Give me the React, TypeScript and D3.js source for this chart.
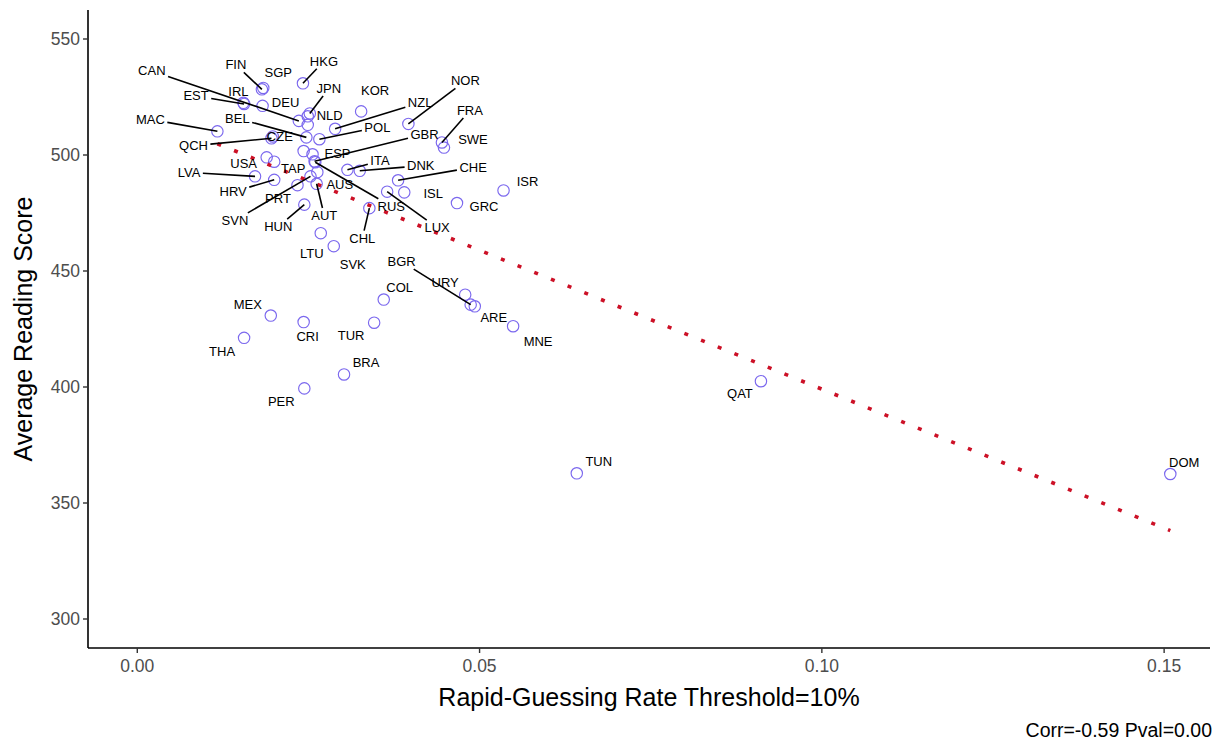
import React, { useMemo } from "react";
import * as d3 from "d3";

// ---------- DATA ----------
const countries = [
  "FIN","SGP","HKG","EST","IRL","DEU","JPN","NLD","CAN","",
  "NZL","POL","BEL","QCH","CZE","MAC","KOR","NOR","FRA","SWE",
  "","ESP","GBR","RUS","USA","TAP","LVA","HRV","PRT","SVN",
  "AUS","AUT","HUN","ITA","DNK","CHE","LUX","ISL","GRC","ISR",
  "CHL","LTU","SVK","MEX","CRI","THA","TUR","COL","BRA","PER",
  "URY","BGR","ARE","MNE","QAT","TUN","DOM",
];
const rapidGuessRate = [
  0.0182,0.0184,0.0242,0.0156,0.0155,0.0183,0.0252,0.0249,0.0236,0.0249,
  0.0289,0.0266,0.0247,0.0196,0.0198,0.0117,0.0327,0.0396,0.0445,0.0448,
  0.0243,0.0256,0.0259,0.0260,0.0189,0.0200,0.0172,0.0200,0.0234,0.0253,
  0.0263,0.0262,0.0244,0.0307,0.0325,0.0381,0.0365,0.0390,0.0467,0.0535,
  0.0339,0.0268,0.0287,0.0195,0.0243,0.0156,0.0346,0.0360,0.0302,0.0244,
  0.0479,0.0487,0.0493,0.0549,0.0911,0.0642,0.1509,
];
const readingScore = [
  528.3,528.9,530.9,522.0,522.5,521.2,517.9,516.7,514.7,513.0,
  511.3,506.8,507.6,507.2,508.0,510.2,518.8,513.4,505.4,503.2,
  501.7,500.3,497.3,496.9,499.0,497.1,490.8,489.3,487.0,490.8,
  492.6,487.6,478.6,493.6,493.2,489.1,484.2,483.9,479.3,484.7,
  477.1,466.3,460.7,430.8,428.0,421.2,427.7,437.7,405.4,399.4,
  439.8,435.5,434.8,426.2,402.5,362.8,362.5,
];
const xTicks = [0, 0.05, 0.1, 0.15];
const yTicks = [300, 350, 400, 450, 500, 550];
const xTitle = "Rapid-Guessing Rate Threshold=10%";
const yTitle = "Average Reading Score";
const caption = "Corr=-0.59 Pval=0.00";

// ---------- LAYOUT (repelled label placement, px offsets from point) ----------
const labelOffsets: [number, number][] = [
  [-26,-24.5],[15,-15],[21,-22],[-48,-8],[-5,-11],[23,-3],[19,-25],[22,-1],[-147,-50],[0,0],
  [85,-26],[58,-12],[-69,-19],[-78,7.5],[7,0],[-67,-12],[14,-21],[57,-43],[28,-32],[29,-8],
  [0,0],[25,-1],[110,-27],[76,44],[-23,6],[19,7],[-66,-4],[-41,12],[-19.5,13],[-75.5,44],
  [22.5,12],[7.6,31.7],[-26,22],[32.5,-9],[61,-5],[75,-13],[50,36],[29,1],[27,3],[24,-9],
  [-7,30],[-9,20.5],[19,18.5],[-23,-11],[4,14],[-22,14],[-23,13],[16,-12],[22,-12],[-23,13],
  [-20,-12],[-69,-43],[19,11],[25,15],[-21,12],[22,-12],[14,-12],
];
const segmentLabels = new Set([
  "FIN","HKG","EST","JPN","CAN","NZL","POL","BEL","QCH","MAC","NOR","FRA","GBR","RUS",
  "LVA","HRV","SVN","AUT","HUN","ITA","DNK","CHE","LUX","CHL","BGR",
]);

const W = 1225, H = 745;
const panel = { left: 88, right: 1210, top: 10, bottom: 648 };
const FONT = "'Liberation Sans', Arial, Helvetica, sans-serif";
const LABEL_SIZE = 13;

let measureCtx: CanvasRenderingContext2D | null = null;
function textWidth(s: string, size: number) {
  if (!measureCtx) {
    const c = document.createElement("canvas");
    measureCtx = c.getContext("2d");
  }
  if (!measureCtx) return s.length * size * 0.65;
  measureCtx.font = `${size}px ${FONT}`;
  return measureCtx.measureText(s).width;
}

export default function App() {
  const x = d3.scaleLinear().domain([-0.0072, 0.1567]).range([panel.left, panel.right]);
  const y = d3.scaleLinear().domain([287.5, 562.5]).range([panel.bottom, panel.top]);

  const pts = countries.map((c, i) => ({
    name: c,
    xv: rapidGuessRate[i],
    yv: readingScore[i],
    off: labelOffsets[i],
  }));

  const fit = useMemo(() => {
    const mx = d3.mean(rapidGuessRate)!;
    const my = d3.mean(readingScore)!;
    let sxy = 0, sxx = 0;
    rapidGuessRate.forEach((v, i) => {
      sxy += (v - mx) * (readingScore[i] - my);
      sxx += (v - mx) * (v - mx);
    });
    const b = sxy / sxx;
    const a = my - b * mx;
    const [x0, x1] = d3.extent(rapidGuessRate) as [number, number];
    return [[x0, a + b * x0], [x1, a + b * x1]] as [number, number][];
  }, []);

  const line = d3.line<[number, number]>().x((d) => x(d[0])).y((d) => y(d[1]));

  const labels = pts.filter((p) => p.name !== "").map((p) => {
    const px = x(p.xv), py = y(p.yv);
    const lx = px + p.off[0], ly = py + p.off[1];
    let seg: null | { x1: number; y1: number; x2: number; y2: number } = null;
    if (segmentLabels.has(p.name)) {
      const hw = textWidth(p.name, LABEL_SIZE) / 2 + 2.5;
      const hh = 7.5;
      const dx = px - lx, dy = py - ly;
      const tx = dx !== 0 ? hw / Math.abs(dx) : Infinity;
      const ty = dy !== 0 ? hh / Math.abs(dy) : Infinity;
      const t = Math.min(tx, ty);
      if (t < 1) seg = { x1: lx + dx * t, y1: ly + dy * t, x2: px, y2: py };
    }
    return { ...p, px, py, lx, ly, seg };
  });

  return (
    <svg
      width={W}
      height={H}
      style={{ position: "absolute", left: 0, top: 0, background: "#fff" }}
      fontFamily={FONT}
    >
      <rect x={0} y={0} width={W} height={H} fill="#fff" />
      {/* points */}
      {pts.map((p, i) => (
        <circle
          key={"p" + i}
          cx={x(p.xv)}
          cy={y(p.yv)}
          r={5.7}
          fill="none"
          stroke="#7B68EE"
          strokeWidth={1.15}
        />
      ))}
      {/* regression line */}
      <path
        d={line(fit) || ""}
        fill="none"
        stroke="#CC1026"
        strokeWidth={3.6}
        strokeDasharray="4 14"
      />
      {/* segments */}
      {labels.map((l, i) =>
        l.seg ? (
          <line
            key={"s" + i}
            x1={l.seg.x1}
            y1={l.seg.y1}
            x2={l.seg.x2}
            y2={l.seg.y2}
            stroke="#000"
            strokeWidth={1.6}
          />
        ) : null
      )}
      {/* labels */}
      {labels.map((l, i) => (
        <text
          key={"t" + i}
          x={l.lx}
          y={l.ly}
          fontSize={LABEL_SIZE}
          textAnchor="middle"
          dominantBaseline="central"
          fill="#000"
        >
          {l.name}
        </text>
      ))}
      {/* axes */}
      <line x1={panel.left} x2={panel.left} y1={panel.top} y2={panel.bottom} stroke="#000" strokeWidth={1.6} />
      <line x1={panel.left} x2={panel.right} y1={panel.bottom} y2={panel.bottom} stroke="#000" strokeWidth={1.6} />
      {yTicks.map((t) => (
        <g key={"yt" + t}>
          <line x1={panel.left - 5} x2={panel.left} y1={y(t)} y2={y(t)} stroke="#333" strokeWidth={1.4} />
          <text x={panel.left - 8} y={y(t)} fontSize={17.5} fill="#4D4D4D" textAnchor="end" dominantBaseline="central">
            {t}
          </text>
        </g>
      ))}
      {xTicks.map((t) => (
        <g key={"xt" + t}>
          <line x1={x(t)} x2={x(t)} y1={panel.bottom} y2={panel.bottom + 5} stroke="#333" strokeWidth={1.4} />
          <text x={x(t)} y={panel.bottom + 18} fontSize={17.5} fill="#4D4D4D" textAnchor="middle" dominantBaseline="central">
            {d3.format(".2f")(t)}
          </text>
        </g>
      ))}
      <text x={(panel.left + panel.right) / 2} y={697} fontSize={25} textAnchor="middle" dominantBaseline="central" fill="#000">
        {xTitle}
      </text>
      <text
        transform={`translate(23,${(panel.top + panel.bottom) / 2}) rotate(-90)`}
        fontSize={25}
        textAnchor="middle"
        dominantBaseline="central"
        fill="#000"
      >
        {yTitle}
      </text>
      <text x={1212} y={730} fontSize={19.5} textAnchor="end" dominantBaseline="central" fill="#000">
        {caption}
      </text>
    </svg>
  );
}
